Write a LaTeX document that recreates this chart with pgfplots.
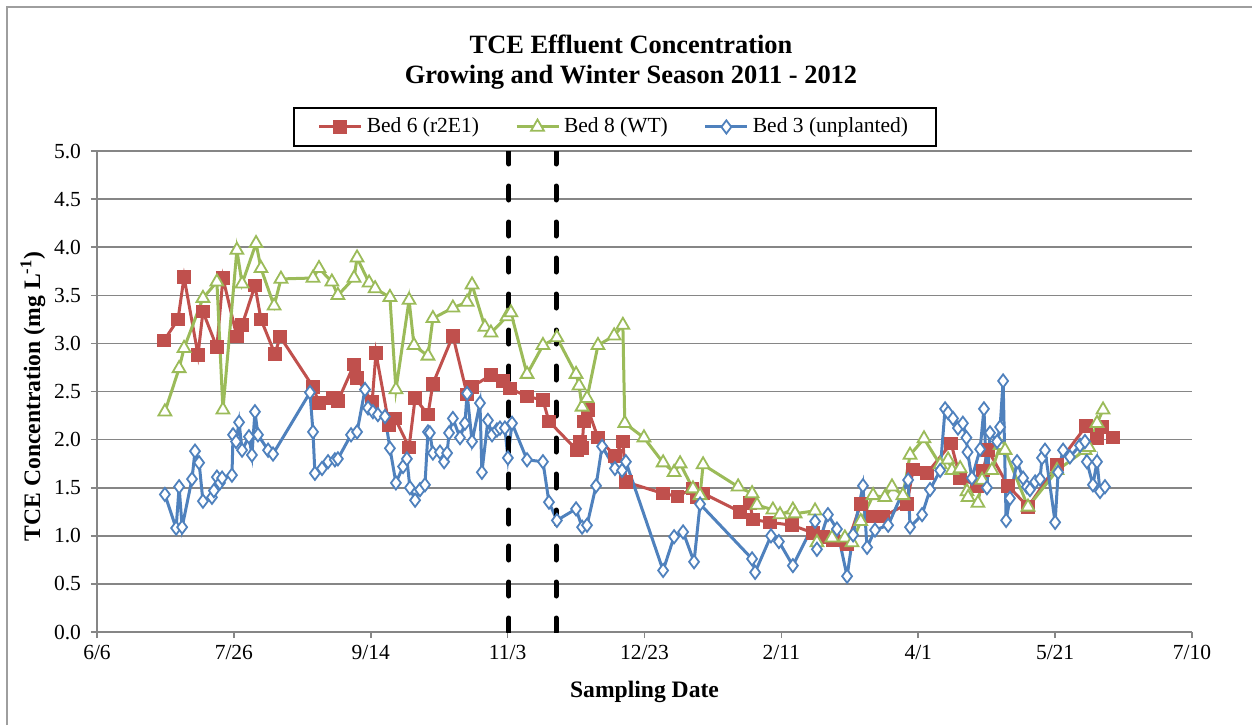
\documentclass[border=0pt]{standalone}
\usepackage{pgfplots}
\pgfplotsset{compat=1.18}
\usepackage{fontspec}
\setmainfont{Liberation Serif}

\definecolor{bedred}{HTML}{C0504D}
\definecolor{bedgreen}{HTML}{9BBB59}
\definecolor{bedblue}{HTML}{4F81BD}
\definecolor{gridgray}{HTML}{868686}

\begin{document}
\begin{tikzpicture}
\path[use as bounding box] (0,0) rectangle (626pt,362.5pt);
% chart area frame
\draw[gridgray!80, line width=0.8pt] (3.5pt,0) -- (3.5pt,359pt) -- (626pt,359pt);
% title
\node[font=\fontsize{13.2}{15}\selectfont\bfseries, anchor=base] at (315.5pt,336pt) {TCE Effluent Concentration};
\node[font=\fontsize{13.2}{15}\selectfont\bfseries, anchor=base] at (315.5pt,321pt) {Growing and Winter Season 2011 - 2012};

% x values are days after 6 June 2011
\begin{axis}[
  at={(48.5pt,46.5pt)}, anchor=south west,
  scale only axis, width=547.5pt, height=240.5pt,
  xmin=0, xmax=400, ymin=0, ymax=5,
  axis lines=left,
  axis line style={-, draw=gridgray, line width=0.8pt},
  xtick={0,50,...,400},
  xticklabels={6/6,7/26,9/14,11/3,12/23,2/11,4/1,5/21,7/10},
  ytick={0,0.5,1,1.5,2,2.5,3,3.5,4,4.5,5},
  yticklabel style={xshift=-1.5pt, /pgf/number format/.cd, fixed, fixed zerofill, precision=1, assume math mode=true},
  tick align=outside,
  major tick length=3pt,
  tick style={draw=gridgray, line width=0.8pt},
  ymajorgrids=true,
  major grid style={draw=gridgray, line width=0.8pt},
  tick label style={font=\fontsize{10.75}{12}\selectfont},
  xlabel={Sampling Date},
  xlabel style={font=\fontsize{11.8}{14}\selectfont\bfseries, at={(axis description cs:0.5,-0.1247)}, anchor=center},
  ylabel={TCE Concentration (mg L\textsuperscript{-1})},
  ylabel style={font=\fontsize{11.8}{14}\selectfont\bfseries, at={(axis description cs:-0.0585,0.49)}, anchor=center},
  legend columns=3,
  legend style={at={(axis description cs:0.473,1.05)}, anchor=center, draw=black, line width=1pt,
    font=\fontsize{10.75}{12}\selectfont, inner xsep=12pt, inner ysep=3pt,
    /tikz/every even column/.append style={column sep=16pt}},
  legend cell align=left,
  legend image code/.code={\draw[mark repeat=2,mark phase=2,#1] plot coordinates {(0pt,0pt) (10.5pt,0pt) (21pt,0pt)};},
]

\addplot[bedred, line width=1.5pt, mark=square*, mark size=3.1pt, mark options={solid, fill=bedred, line width=0.6pt}] table {
24.5 3.03
29.6 3.25
31.8 3.69
36.9 2.88
38.7 3.33
43.8 2.96
46.0 3.68
51.1 3.07
53.0 3.19
57.7 3.60
59.9 3.25
65.0 2.89
66.9 3.07
78.9 2.55
81.1 2.38
86.2 2.43
88.0 2.40
93.9 2.78
95.0 2.64
100.5 2.39
101.9 2.90
106.7 2.15
108.9 2.22
114.0 1.92
116.2 2.43
120.9 2.26
122.7 2.58
130.0 3.08
135.2 2.47
137.0 2.55
143.9 2.67
148.3 2.61
150.9 2.53
157.1 2.45
162.9 2.41
165.1 2.19
175.3 1.89
176.4 1.98
177.2 1.91
177.8 2.19
179.4 2.31
183.0 2.02
189.2 1.83
192.1 1.98
193.2 1.56
206.8 1.44
212.0 1.41
217.5 1.49
219.0 1.40
221.5 1.44
234.9 1.25
238.5 1.34
239.6 1.17
245.8 1.14
253.9 1.11
261.6 1.03
265.2 0.99
268.9 0.95
274.0 0.91
279.0 1.33
283.5 1.20
287.1 1.20
295.9 1.33
298.1 1.69
303.2 1.65
312.0 1.96
315.3 1.60
321.5 1.52
323.7 1.68
325.5 1.89
332.8 1.52
340.1 1.30
350.7 1.74
361.3 2.14
365.3 2.01
367.1 2.13
371.1 2.02
};
\addlegendentry{Bed 6 (r2E1)}

\addplot[bedgreen, line width=1.5pt, mark=triangle*, mark size=3.7pt, mark options={solid, fill=white, line width=0.9pt}] table {
24.8 2.29
30.0 2.74
31.8 2.95
38.7 3.47
43.8 3.64
46.0 2.31
51.1 3.97
53.0 3.62
58.1 4.04
59.9 3.78
64.7 3.39
67.2 3.67
78.9 3.68
81.1 3.78
85.8 3.64
88.0 3.50
93.9 3.68
95.0 3.89
99.4 3.63
101.6 3.57
107.0 3.48
109.2 2.52
114.0 3.45
115.8 2.98
120.9 2.87
122.7 3.26
130.0 3.37
135.2 3.43
137.0 3.61
141.7 3.17
143.9 3.11
149.8 3.28
151.2 3.32
157.1 2.68
162.9 2.98
168.0 3.06
175.0 2.68
176.1 2.56
177.2 2.34
179.0 2.43
183.0 2.98
188.9 3.08
192.1 3.19
192.8 2.17
199.8 2.02
206.8 1.76
210.8 1.66
213.0 1.75
217.7 1.49
220.3 1.42
221.4 1.74
234.2 1.51
239.3 1.44
241.1 1.32
246.9 1.27
249.5 1.22
254.2 1.27
255.0 1.23
262.3 1.26
263.0 0.93
268.5 0.98
273.2 0.98
275.8 0.93
279.0 1.15
283.5 1.42
287.8 1.40
290.4 1.51
294.4 1.42
297.0 1.84
302.1 2.01
308.0 1.74
310.9 1.79
312.3 1.68
315.3 1.70
317.8 1.46
318.2 1.40
321.8 1.34
323.3 1.58
326.9 1.68
329.9 1.94
331.7 1.89
340.1 1.30
350.7 1.68
360.9 1.89
362.3 1.92
365.3 2.17
367.5 2.31
};
\addlegendentry{Bed 8 (WT)}

\addplot[bedblue, line width=1.5pt, mark=diamond*, mark size=3.3pt, mark options={solid, fill=white, line width=0.9pt}] table {
24.8 1.43
28.9 1.08
30.0 1.51
31.1 1.09
34.7 1.59
35.8 1.88
37.3 1.76
38.7 1.36
42.0 1.40
42.7 1.47
43.8 1.61
44.9 1.55
45.7 1.60
49.3 1.63
49.7 2.05
50.8 1.98
51.9 2.18
53.0 1.89
55.5 2.03
56.6 1.84
57.7 2.29
58.8 2.05
62.5 1.89
64.3 1.85
77.8 2.49
78.9 2.08
79.6 1.65
82.2 1.70
84.4 1.77
86.9 1.79
88.0 1.80
92.8 2.05
95.0 2.08
97.9 2.52
99.0 2.33
100.8 2.29
102.6 2.26
105.2 2.24
107.0 1.91
109.2 1.55
111.8 1.72
113.2 1.80
114.3 1.50
116.2 1.37
118.0 1.48
119.8 1.53
120.9 2.08
121.6 2.07
122.7 1.86
125.3 1.87
126.8 1.77
127.9 1.86
128.6 2.07
130.0 2.22
132.6 2.02
134.4 2.17
135.2 2.48
137.0 1.98
139.9 2.38
140.6 1.66
142.8 2.20
144.3 2.05
146.1 2.10
147.2 2.12
149.0 2.12
150.1 1.81
151.6 2.17
157.1 1.79
162.9 1.77
165.1 1.35
168.0 1.16
175.0 1.28
177.2 1.09
179.0 1.11
182.3 1.52
184.5 1.93
189.2 1.70
191.8 1.68
193.2 1.77
206.8 0.64
210.8 0.99
214.1 1.04
218.1 0.73
220.3 1.33
239.3 0.76
240.4 0.62
246.2 1.00
249.1 0.94
254.2 0.69
262.3 1.15
263.0 0.86
267.0 1.22
270.3 1.07
274.0 0.58
276.2 1.01
279.8 1.52
281.3 0.88
284.2 1.06
289.0 1.11
296.3 1.58
297.0 1.09
301.4 1.22
304.3 1.48
308.0 1.68
309.8 2.32
310.9 2.28
312.7 2.22
314.5 2.12
316.3 2.17
317.6 2.02
318.0 1.87
319.6 1.60
322.6 1.90
324.0 2.32
325.1 1.50
326.2 2.07
328.8 1.98
329.9 2.13
331.0 2.61
332.1 1.16
333.5 1.39
336.1 1.77
338.3 1.60
339.7 1.51
340.8 1.48
342.7 1.56
344.5 1.59
345.2 1.81
346.3 1.89
350.0 1.14
351.1 1.66
352.9 1.89
355.4 1.82
359.1 1.94
360.9 1.98
361.6 1.77
363.8 1.53
365.3 1.77
366.4 1.46
368.2 1.51
};
\addlegendentry{Bed 3 (unplanted)}

% season boundaries
\addplot[black, line width=2.5pt, dash pattern=on 7pt off 11pt, line cap=round, forget plot] coordinates {(150.5,0) (150.5,5)};
\addplot[black, line width=2.5pt, dash pattern=on 7pt off 11pt, line cap=round, forget plot] coordinates {(167.7,0) (167.7,5)};
\end{axis}
\end{tikzpicture}
\end{document}
